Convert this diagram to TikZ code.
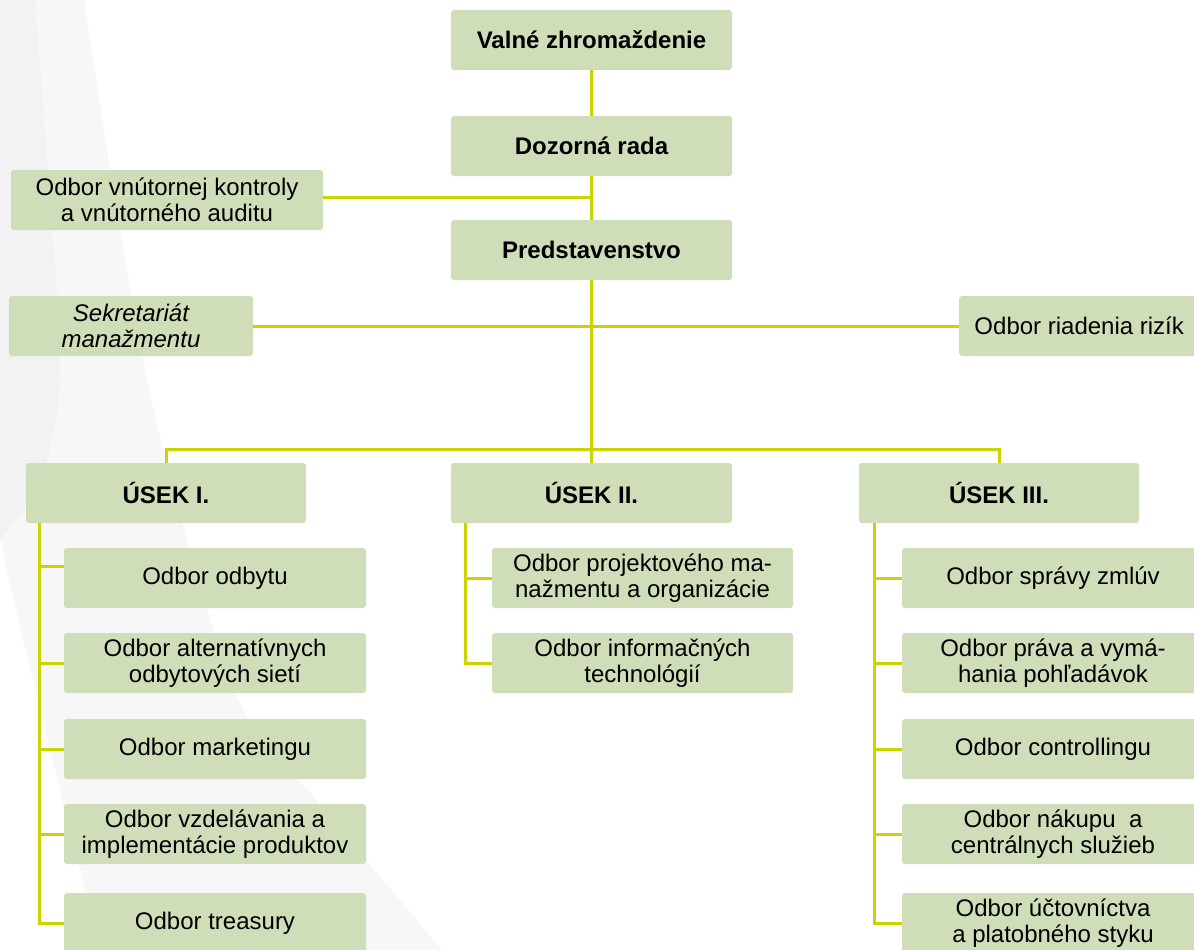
\documentclass[tikz,border=0pt]{standalone}
\usepackage{fontspec}
\setmainfont{Liberation Sans}
\definecolor{boxfill}{RGB}{207,222,185}
\definecolor{linecol}{RGB}{202,213,0}
\definecolor{bglight}{RGB}{247,247,247}
\definecolor{bgdark}{RGB}{242,242,242}
\tikzset{
  box/.style={fill=boxfill, rounded corners=3pt, minimum height=60pt, inner sep=0pt, align=center, font=\fontsize{24}{26}\selectfont, text=black},
  bbox/.style={box, font=\fontsize{24}{26}\selectfont\bfseries},
  conn/.style={draw=linecol, line width=3pt},
}
\begin{document}
\begin{tikzpicture}[x=1pt,y=-1pt]
\clip (0,0) rectangle (1194,950);
\fill[white] (0,0) rectangle (1194,950);
% background swoosh
\fill[bglight] plot[smooth] coordinates {(84,0) (147,380) (230,680) (300,780) (442,950)} -- (100,950) -- plot[smooth] coordinates {(100,950) (33,680) (0,540)} -- (0,0) -- cycle;
\fill[bgdark] plot[smooth] coordinates {(35,0) (50,200) (60,380) (40,480) (0,540)} -- (0,0) -- cycle;

% top chain
\node[bbox, minimum width=281pt] (vz) at (591.5,40) {Valné zhromaždenie};
\node[bbox, minimum width=281pt] (dr) at (591.5,146) {Dozorná rada};
\node[bbox, minimum width=281pt] (pr) at (591.5,250) {Predstavenstvo};
\node[box, minimum width=312pt] (ok) at (167,200) {Odbor vnútornej kontroly\\a vnútorného auditu};
\node[box, minimum width=244pt, font=\fontsize{24}{26}\selectfont\itshape] (sk) at (131,326) {Sekretariát\\manažmentu};
\node[box, minimum width=240pt, anchor=west] (rr) at (959,326) {Odbor riadenia rizík};

% sections
\node[bbox, minimum width=280pt] (u1) at (166,493) {ÚSEK I.};
\node[bbox, minimum width=281pt] (u2) at (591.5,493) {ÚSEK II.};
\node[bbox, minimum width=280pt] (u3) at (999,493) {ÚSEK III.};

% section I children
\node[box, minimum width=302pt] (a1) at (215,578) {Odbor odbytu};
\node[box, minimum width=302pt] (a2) at (215,663) {Odbor alternatívnych\\odbytových sietí};
\node[box, minimum width=302pt] (a3) at (215,749) {Odbor marketingu};
\node[box, minimum width=302pt] (a4) at (215,834) {Odbor vzdelávania a\\implementácie produktov};
\node[box, minimum width=302pt] (a5) at (215,923) {Odbor treasury};

% section II children
\node[box, minimum width=301pt] (b1) at (642.5,578) {Odbor projektového ma-\\nažmentu a organizácie};
\node[box, minimum width=301pt] (b2) at (642.5,663) {Odbor informačných\\technológií};

% section III children
\node[box, minimum width=302pt] (c1) at (1053,578) {Odbor správy zmlúv};
\node[box, minimum width=302pt] (c2) at (1053,663) {Odbor práva a vymá-\\hania pohľadávok};
\node[box, minimum width=302pt] (c3) at (1053,749) {Odbor controllingu};
\node[box, minimum width=302pt] (c4) at (1053,834) {Odbor nákupu\ \ a\\centrálnych služieb};
\node[box, minimum width=302pt] (c5) at (1053,923) {Odbor účtovníctva\\a platobného styku};

% connectors
\coordinate (bus) at (591.5,449);
\draw[conn] (vz.south) -- (dr.north);
\draw[conn] (dr.south) -- (pr.north);
\draw[conn] ([yshift=3pt]ok.east) -- ([yshift=3pt]ok.east -| dr.south);
\draw[conn] (sk.east) -- (rr.west);
\draw[conn] (pr.south) -- (bus);
\draw[conn] (bus) -| (u1.north);
\draw[conn] (bus) -| (u3.north);
\draw[conn] (bus) -- (u2.north);

\draw[conn] ([xshift=14pt]u1.south west) |- ([yshift=12pt]a1.west);
\foreach \n in {a2,a3,a4,a5} \draw[conn] ([xshift=14pt]u1.south west) |- (\n.west);
\foreach \n in {b1,b2} \draw[conn] ([xshift=15pt]u2.south west) |- (\n.west);
\foreach \n in {c1,c2,c3,c4,c5} \draw[conn] ([xshift=16pt]u3.south west) |- (\n.west);
\end{tikzpicture}
\end{document}
